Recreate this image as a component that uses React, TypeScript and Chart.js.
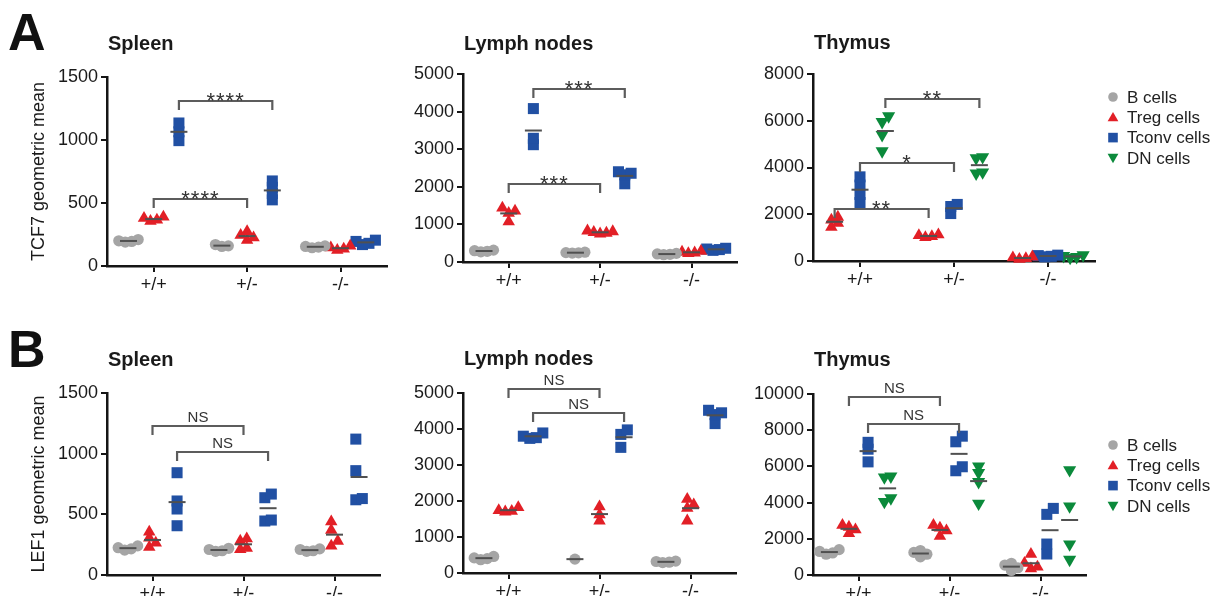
import React, { useEffect, useRef } from 'react';
import { Chart, registerables } from 'chart.js';

Chart.register(...registerables);

const FONT = '"Liberation Sans", Arial, Helvetica, sans-serif';
Chart.defaults.font.family = FONT;

// ---------- categories ----------
const groupLabels = ['+/+', '+/-', '-/-'];
const cellNames = ['B cells', 'Treg cells', 'Tconv cells', 'DN cells'];

// ---------- A: TCF7 geometric mean (per genotype: +/+, +/-, -/-) ----------
const tcf7SpleenB = [[190, 195, 200, 210], [155, 160, 170], [145, 150, 155, 160]];
const tcf7SpleenTreg = [[355, 365, 380, 390], [205, 225, 245, 275], [125, 135, 145, 160]];
const tcf7SpleenTconv = [[995, 1065, 1135], [525, 575, 625, 675], [170, 180, 195, 205]];
const tcf7SpleenTicks = [0, 500, 1000, 1500];
const tcf7SpleenSig = [
  { cell: 2, y: 1310, label: '****' },
  { cell: 1, y: 532, label: '****' },
];

const tcf7LymphB = [[270, 285, 300, 315], [235, 245, 250, 260], [195, 205, 215, 230]];
const tcf7LymphTreg = [[1070, 1300, 1360, 1440], [750, 770, 790, 810, 830], [230, 245, 265, 290]];
const tcf7LymphTconv = [[3120, 3290, 4080], [2080, 2320, 2360, 2400], [310, 330, 345, 365]];
const tcf7LymphTicks = [0, 1000, 2000, 3000, 4000, 5000];
const tcf7LymphSig = [
  { cell: 2, y: 4600, label: '***' },
  { cell: 1, y: 2075, label: '***' },
];

const tcf7ThymusB: number[][] = [[], [], []];
const tcf7ThymusTreg = [[1450, 1620, 1760, 1880], [1010, 1050, 1090, 1130], [80, 110, 140, 180]];
const tcf7ThymusTconv = [[2500, 2850, 3250, 3600], [2030, 2330, 2420], [180, 200, 230, 250]];
const tcf7ThymusDN = [[4700, 5400, 5950, 6200], [3750, 3800, 4400, 4450], [140, 180, 220, 250]];
const tcf7ThymusTicks = [0, 2000, 4000, 6000, 8000];
const tcf7ThymusSig = [
  { cell: 3, y: 6946, label: '**' },
  { cell: 2, y: 4207, label: '*' },
  { cell: 1, y: 2212, label: '**' },
];

// ---------- B: LEF1 geometric mean ----------
const lef1SpleenB = [[205, 215, 225, 240], [195, 200, 210, 220], [195, 200, 210, 215]];
const lef1SpleenTreg = [[230, 265, 305, 355], [210, 222, 280, 300], [240, 280, 370, 440]];
const lef1SpleenTconv = [[406, 544, 610, 843], [445, 453, 637, 667], [620, 630, 860, 1120]];
const lef1SpleenTicks = [0, 500, 1000, 1500];
const lef1SpleenSig = [
  { cell: 1, y: 1230, label: 'NS' },
  { cell: 2, y: 1011, label: 'NS' },
];

const lef1LymphB = [[370, 400, 420, 460], [385], [290, 300, 320, 330]];
const lef1LymphTreg = [[1700, 1720, 1740, 1820], [1450, 1620, 1840], [1450, 1800, 1900, 2050]];
const lef1LymphTconv = [[3740, 3760, 3800, 3890], [3490, 3850, 3975], [4150, 4400, 4450, 4520]];
const lef1LymphTicks = [0, 1000, 2000, 3000, 4000, 5000];
const lef1LymphSig = [
  { cell: 1, y: 5115, label: 'NS' },
  { cell: 2, y: 4456, label: 'NS' },
];

const lef1ThymusB = [[1150, 1220, 1300, 1400], [1000, 1150, 1250, 1350], [250, 400, 550, 650]];
const lef1ThymusTreg = [[2300, 2500, 2650, 2750], [2150, 2450, 2600, 2750], [350, 450, 650, 1150]];
const lef1ThymusTconv = [[6250, 6950, 7330], [5760, 5980, 7360, 7670], [1160, 1710, 3350, 3680]];
const lef1ThymusDN = [[4050, 4250, 5400, 5450], [3950, 5150, 5650, 6000], [850, 1700, 3800, 5800]];
const lef1ThymusTicks = [0, 2000, 4000, 6000, 8000, 10000];
const lef1ThymusSig = [
  { cell: 1, y: 9810, label: 'NS' },
  { cell: 2, y: 8335, label: 'NS' },
];

// ---------- styles ----------
const cellStyle = [
  { color: '#a5a5a5', pointStyle: 'circle', radius: 5.6, rotation: 0 },
  { color: '#e21f26', pointStyle: 'triangle', radius: 7.2, rotation: 0 },
  { color: '#2150a3', pointStyle: 'rect', radius: 7.8, rotation: 0 },
  { color: '#0b8a3b', pointStyle: 'triangle', radius: 7.6, rotation: 180 },
];

type Sig = { cell: number; y: number; label: string };
type PanelCfg = {
  title: string;
  titleY: number;
  letter?: string;
  letterY?: number;
  yTitle?: string;
  plot: { L: number; T: number; W: number; B: number };
  canvas: { l: number; t: number; w: number; h: number };
  cells: number[];
  series: number[][][];
  offsets: number[];
  yTicks: number[];
  sig: Sig[];
  legend?: { x: number; y: number };
};

const off3 = [-0.27, 0, 0.27];
const off4 = [-0.32, -0.105, 0.105, 0.32];

const panels: PanelCfg[] = [
  {
    title: 'Spleen', titleY: 50, letter: 'A', letterY: 50, yTitle: 'TCF7 geometric mean',
    plot: { L: 107, T: 77, W: 282, B: 266 }, canvas: { l: 0, t: 0, w: 395, h: 306 },
    cells: [0, 1, 2], series: [tcf7SpleenB, tcf7SpleenTreg, tcf7SpleenTconv], offsets: off3,
    yTicks: tcf7SpleenTicks, sig: tcf7SpleenSig,
  },
  {
    title: 'Lymph nodes', titleY: 50,
    plot: { L: 463, T: 74, W: 282, B: 262 }, canvas: { l: 395, t: 0, w: 350, h: 306 },
    cells: [0, 1, 2], series: [tcf7LymphB, tcf7LymphTreg, tcf7LymphTconv], offsets: off3,
    yTicks: tcf7LymphTicks, sig: tcf7LymphSig,
  },
  {
    title: 'Thymus', titleY: 49,
    plot: { L: 813, T: 74, W: 282, B: 261 }, canvas: { l: 745, t: 0, w: 483, h: 306 },
    cells: [0, 1, 2, 3], series: [tcf7ThymusB, tcf7ThymusTreg, tcf7ThymusTconv, tcf7ThymusDN],
    offsets: [-0.54, -0.27, 0, 0.27],
    yTicks: tcf7ThymusTicks, sig: tcf7ThymusSig, legend: { x: 1113, y: 97 },
  },
  {
    title: 'Spleen', titleY: 366, letter: 'B', letterY: 367, yTitle: 'LEF1 geometric mean',
    plot: { L: 107, T: 393, W: 273, B: 575 }, canvas: { l: 0, t: 306, w: 395, h: 290 },
    cells: [0, 1, 2], series: [lef1SpleenB, lef1SpleenTreg, lef1SpleenTconv], offsets: off3,
    yTicks: lef1SpleenTicks, sig: lef1SpleenSig,
  },
  {
    title: 'Lymph nodes', titleY: 365,
    plot: { L: 463, T: 393, W: 273, B: 573 }, canvas: { l: 395, t: 306, w: 350, h: 290 },
    cells: [0, 1, 2], series: [lef1LymphB, lef1LymphTreg, lef1LymphTconv], offsets: off3,
    yTicks: lef1LymphTicks, sig: lef1LymphSig,
  },
  {
    title: 'Thymus', titleY: 366,
    plot: { L: 813, T: 394, W: 273, B: 575 }, canvas: { l: 745, t: 306, w: 483, h: 290 },
    cells: [0, 1, 2, 3], series: [lef1ThymusB, lef1ThymusTreg, lef1ThymusTconv, lef1ThymusDN], offsets: off4,
    yTicks: lef1ThymusTicks, sig: lef1ThymusSig, legend: { x: 1113, y: 445 },
  },
];

// beeswarm: spread overlapping points horizontally (pixel units)
function swarm(values: number[], pxPerUnit: number, sx = 6.5, ty = 6): number[] {
  const order = values.map((_, i) => i).sort((a, b) => values[a] - values[b]);
  const placed: { x: number; y: number }[] = [];
  const out = new Array(values.length).fill(0);
  const cands = [0];
  for (let k = 1; k < 12; k++) cands.push(k * sx, -k * sx);
  for (const i of order) {
    const y = values[i] * pxPerUnit;
    let x = 0;
    for (const c of cands) {
      if (placed.every((p) => Math.abs(p.y - y) >= ty || Math.abs(p.x - c) >= sx - 1e-6)) {
        x = c;
        break;
      }
    }
    placed.push({ x, y });
    out[i] = x;
  }
  if (!out.length) return out;
  const mid = (Math.max(...out) + Math.min(...out)) / 2;
  return out.map((x) => x - mid);
}

function markerPath(ctx: CanvasRenderingContext2D, cell: number, x: number, y: number) {
  ctx.beginPath();
  if (cell === 0) {
    ctx.arc(x, y, 4.8, 0, Math.PI * 2);
  } else if (cell === 2) {
    ctx.rect(x - 4.8, y - 4.8, 9.6, 9.6);
  } else if (cell === 1) {
    const r = 6.2;
    ctx.moveTo(x, y - r * 0.85);
    ctx.lineTo(x + r * 0.866, y + r * 0.65);
    ctx.lineTo(x - r * 0.866, y + r * 0.65);
    ctx.closePath();
  } else {
    const r = 6.2;
    ctx.moveTo(x, y + r * 0.85);
    ctx.lineTo(x + r * 0.866, y - r * 0.65);
    ctx.lineTo(x - r * 0.866, y - r * 0.65);
    ctx.closePath();
  }
}

function buildConfig(p: PanelCfg): any {
  const H = p.plot.B - p.plot.T;
  const yMax = p.yTicks[p.yTicks.length - 1];
  const pxPerY = H / yMax;
  const pxPerX = p.plot.W / 3;

  const datasets = p.cells.map((cellIdx, k) => {
    const st = cellStyle[cellIdx];
    const data: { x: number; y: number }[] = [];
    p.series[k].forEach((vals, g) => {
      const dx = swarm(vals, pxPerY);
      vals.forEach((v, i) => data.push({ x: g + p.offsets[k] + dx[i] / pxPerX, y: v }));
    });
    return {
      label: cellNames[cellIdx],
      data,
      showLine: false,
      clip: false,
      pointStyle: st.pointStyle,
      pointRadius: st.radius,
      pointHoverRadius: st.radius,
      pointRotation: st.rotation,
      pointBackgroundColor: st.color,
      pointBorderColor: st.color,
      pointBorderWidth: 0,
      backgroundColor: st.color,
      borderColor: st.color,
    };
  });

  const padTop = p.plot.T - p.canvas.t;
  const padRight = p.canvas.l + p.canvas.w - (p.plot.L + p.plot.W);
  const yAxisW = p.plot.L - p.canvas.l;
  const xAxisH = p.canvas.t + p.canvas.h - p.plot.B;

  const axisColor = '#151515';
  const tickFont = { family: FONT, size: 18 };

  const decor = {
    id: 'decor',
    afterDatasetsDraw(chart: any) {
      const { ctx } = chart;
      const xs = chart.scales.x;
      const ys = chart.scales.y;
      ctx.save();
      ctx.strokeStyle = '#505050';
      ctx.lineWidth = 2;
      p.series.forEach((series, k) => {
        series.forEach((vals, g) => {
          if (!vals.length) return;
          const m = vals.reduce((a, b) => a + b, 0) / vals.length;
          const x = xs.getPixelForValue(g + p.offsets[k]);
          const y = ys.getPixelForValue(m);
          ctx.beginPath();
          ctx.moveTo(x - 8.5, y);
          ctx.lineTo(x + 8.5, y);
          ctx.stroke();
        });
      });
      ctx.restore();
    },
    afterDraw(chart: any) {
      const { ctx, chartArea } = chart;
      const xs = chart.scales.x;
      const ys = chart.scales.y;
      ctx.save();
      // brackets
      p.sig.forEach((s) => {
        const k = p.cells.indexOf(s.cell);
        const x1 = xs.getPixelForValue(0 + p.offsets[k]);
        const x2 = xs.getPixelForValue(1 + p.offsets[k]);
        const y = Math.round(ys.getPixelForValue(s.y));
        ctx.strokeStyle = '#5c5c5c';
        ctx.lineWidth = 2.2;
        ctx.lineJoin = 'miter';
        ctx.beginPath();
        ctx.moveTo(x1, y + 9);
        ctx.lineTo(x1, y);
        ctx.lineTo(x2, y);
        ctx.lineTo(x2, y + 9);
        ctx.stroke();
        ctx.fillStyle = '#333';
        ctx.textAlign = 'center';
        ctx.textBaseline = 'alphabetic';
        if (s.label === 'NS') {
          ctx.font = `15px ${FONT}`;
          ctx.fillText(s.label, (x1 + x2) / 2, y - 4);
        } else {
          ctx.font = `22px ${FONT}`;
          (ctx as any).letterSpacing = '1px';
          ctx.fillText(s.label, (x1 + x2) / 2, y + 7);
          (ctx as any).letterSpacing = '0px';
        }
      });
      // panel title
      ctx.fillStyle = '#1a1a1a';
      ctx.textAlign = 'left';
      ctx.textBaseline = 'alphabetic';
      ctx.font = `bold 20px ${FONT}`;
      ctx.fillText(p.title, chartArea.left + 1, p.titleY - p.canvas.t);
      // panel letter
      if (p.letter) {
        ctx.fillStyle = '#111';
        ctx.font = `bold 52px ${FONT}`;
        ctx.fillText(p.letter, 8 - p.canvas.l, (p.letterY as number) - p.canvas.t);
      }
      // legend
      if (p.legend) {
        const lx = p.legend.x - p.canvas.l;
        p.cells.forEach((cellIdx, i) => {
          const ly = p.legend!.y + i * 20.3 - p.canvas.t;
          ctx.fillStyle = cellStyle[cellIdx].color;
          markerPath(ctx, cellIdx, lx, ly);
          ctx.fill();
          ctx.fillStyle = '#222';
          ctx.font = `17px ${FONT}`;
          ctx.textAlign = 'left';
          ctx.textBaseline = 'middle';
          ctx.fillText(cellNames[cellIdx], lx + 14, ly + 1);
        });
      }
      ctx.restore();
    },
  };

  return {
    type: 'scatter',
    data: { datasets },
    options: {
      animation: false,
      responsive: false,
      maintainAspectRatio: false,
      devicePixelRatio: 1,
      events: [],
      layout: { padding: { top: padTop, right: padRight, bottom: 0, left: 0 } },
      plugins: {
        legend: { display: false },
        tooltip: { enabled: false },
        title: { display: false },
      },
      scales: {
        x: {
          type: 'linear',
          min: -0.5,
          max: 2.5,
          afterBuildTicks: (s: any) => {
            s.ticks = groupLabels.map((_, i) => ({ value: i }));
          },
          afterFit: (s: any) => {
            s.height = xAxisH;
          },
          ticks: {
            callback: (v: number) => groupLabels[Math.round(v)],
            font: tickFont,
            color: '#1a1a1a',
            padding: 2,
            autoSkip: false,
            maxRotation: 0,
          },
          grid: { display: true, drawOnChartArea: false, drawTicks: true, tickLength: 6, color: axisColor, lineWidth: 2 },
          border: { display: true, color: axisColor, width: 2.5 },
        },
        y: {
          type: 'linear',
          min: 0,
          max: yMax,
          afterBuildTicks: (s: any) => {
            s.ticks = p.yTicks.map((v) => ({ value: v }));
          },
          afterFit: (s: any) => {
            s.width = yAxisW;
          },
          ticks: {
            callback: (v: number) => String(v),
            font: tickFont,
            color: '#1a1a1a',
            padding: 3,
            autoSkip: false,
          },
          grid: { display: true, drawOnChartArea: false, drawTicks: true, tickLength: 6, color: axisColor, lineWidth: 2 },
          border: { display: true, color: axisColor, width: 2.5 },
          title: {
            display: !!p.yTitle,
            text: p.yTitle || '',
            font: { family: FONT, size: 18 },
            color: '#1a1a1a',
            padding: { top: 28, bottom: 0 },
          },
        },
      },
    },
    plugins: [decor],
  };
}

function Panel({ cfg }: { cfg: PanelCfg }) {
  const ref = useRef<HTMLCanvasElement>(null);
  useEffect(() => {
    const chart = new Chart(ref.current as HTMLCanvasElement, buildConfig(cfg));
    return () => chart.destroy();
  }, [cfg]);
  return (
    <canvas
      ref={ref}
      width={cfg.canvas.w}
      height={cfg.canvas.h}
      style={{
        position: 'absolute',
        left: cfg.canvas.l,
        top: cfg.canvas.t,
        width: cfg.canvas.w,
        height: cfg.canvas.h,
      }}
    />
  );
}

export default function App() {
  return (
    <div
      style={{
        position: 'absolute',
        left: 0,
        top: 0,
        width: 1228,
        height: 596,
        overflow: 'hidden',
        background: '#ffffff',
      }}
    >
      {panels.map((p, i) => (
        <Panel key={i} cfg={p} />
      ))}
    </div>
  );
}
